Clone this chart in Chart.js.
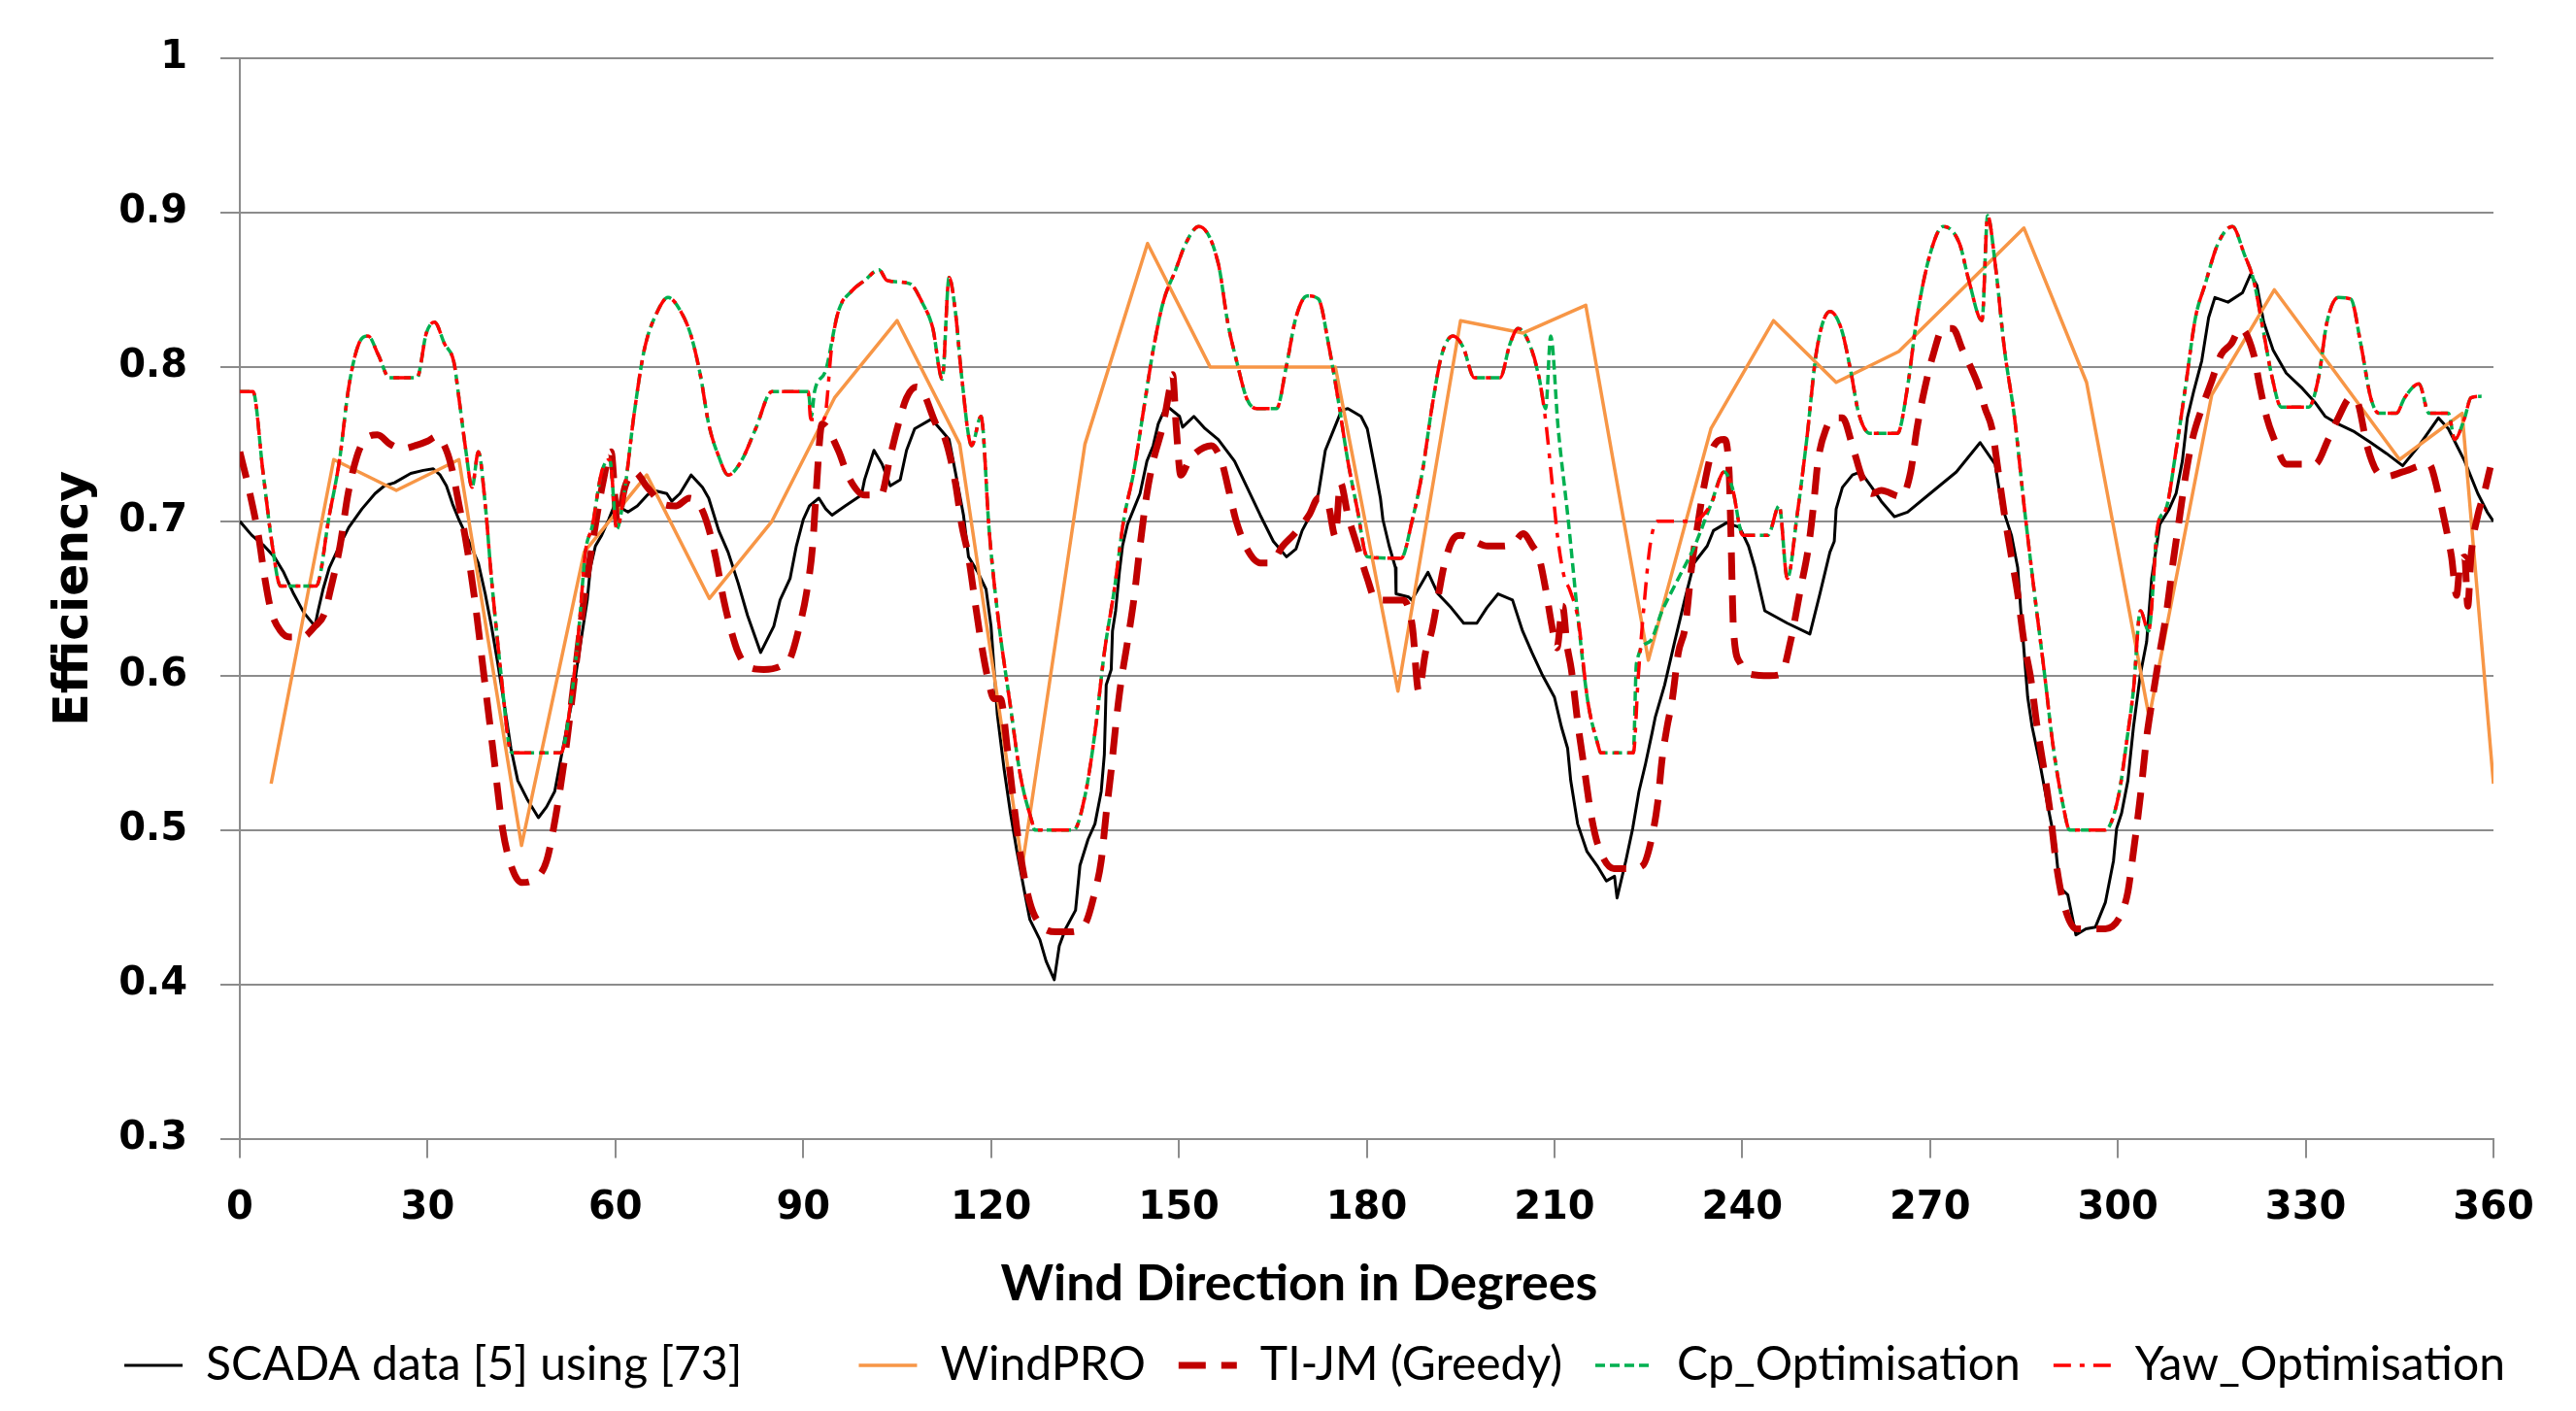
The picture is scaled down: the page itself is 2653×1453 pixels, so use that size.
<!DOCTYPE html>
<html>
<head>
<meta charset="utf-8">
<title>Efficiency vs wind direction</title>
<script src="https://cdn.jsdelivr.net/npm/chart.js@4.4.1/dist/chart.umd.min.js"></script>
<style>
  html, body { margin: 0; padding: 0; background: #fff; }
  canvas { display: block; }
</style>
</head>
<body>
<canvas id="myChart" width="2653" height="1453"></canvas>
<script>
// SCADA data [5] using [73]
var scadaDeg = [0, 1.9, 3.9, 5.5, 7, 8.6, 10.2, 12, 12.5, 13.3, 14.3, 15.9, 17.4, 19.5, 21.6, 23.1, 24.7, 27.3, 29.3, 30.9,
  32, 33, 34, 35, 36.6, 38.1, 39.2, 40.2, 41.2, 42.3, 43.3, 44.4, 45.9, 47.7, 49, 50.3, 51.6, 52.9, 54.2, 55,
  55.5, 56, 56.8, 57.8, 58.9, 59.9, 62, 63.5, 65.1, 66.1, 68.2, 69, 70.3, 72.1, 73.9, 74.9, 76.5, 78, 79.6, 81.1,
  83.2, 85.3, 86.3, 87.9, 88.9, 90, 91, 92.5, 93.6, 94.6, 96.7, 99.3, 99.8, 101.3, 102.6, 103.9, 105.5, 106.5, 107.8, 110.4,
  111.2, 113.3, 114.3, 115.6, 116.4, 117.9, 119.2, 120, 121, 122.1, 123.1, 124.1, 125.2, 126.2, 127.8, 128.8, 130.1, 130.9, 131.9, 133.5,
  134.2, 135.5, 136.6, 137.6, 138.1, 138.4, 139.2, 139.4, 139.9, 140.5, 141, 141.8, 142.8, 143.8, 144.9, 145.9, 146.7, 148, 150.1, 150.6,
  152.4, 154.2, 156.3, 158.9, 160.9, 163, 165.1, 167.2, 168.7, 169.7, 171, 172.3, 173.4, 174.4, 176, 177, 179.1, 180.1, 181.1, 182.2,
  182.6, 183.6, 184.6, 184.7, 186.7, 187.2, 188.8, 189.8, 191.4, 193.5, 195.5, 197.6, 199.2, 201, 203.3, 204.9, 206.4, 208, 210, 211.1,
  212.1, 212.6, 213.7, 215.2, 216.8, 218.3, 219.6, 220, 221.4, 222.5, 223.5, 224.5, 225.6, 226.1, 227.6, 229.2, 230.8, 232.3, 234.4, 235.4,
  237.5, 239.6, 241, 242, 243.6, 247.2, 250.8, 252.4, 254, 254.7, 255, 256, 257.6, 258.9, 260.7, 262.2, 264.3, 266.4, 270, 274.2,
  278, 280.4, 281.4, 283, 284, 284.5, 285.6, 286.3, 287.6, 288.7, 290, 290.7, 292, 293.3, 294.9, 296.4, 298, 299.3, 299.8, 300.6,
  301.6, 302.5, 303.6, 304.6, 305.4, 306.7, 308.2, 309.3, 310.3, 311.1, 312.1, 313.4, 314.5, 315.5, 317.6, 319.9, 321.2, 322.2, 323.3, 324.8,
  326.9, 329.5, 331.5, 333.1, 335.2, 337.8, 340.4, 342.9, 345.5, 348.1, 351.2, 352.8, 355.4, 357.5, 359, 360];
var scadaEff = [0.700, 0.691, 0.684, 0.677, 0.667, 0.653, 0.641, 0.632, 0.642, 0.656, 0.670, 0.684, 0.696, 0.708, 0.718, 0.723, 0.725, 0.731, 0.733, 0.734,
  0.730, 0.723, 0.711, 0.701, 0.687, 0.673, 0.653, 0.632, 0.608, 0.580, 0.553, 0.532, 0.520, 0.508, 0.515, 0.525, 0.553, 0.580, 0.615, 0.636,
  0.649, 0.670, 0.684, 0.691, 0.701, 0.711, 0.706, 0.710, 0.717, 0.720, 0.718, 0.713, 0.718, 0.730, 0.722, 0.715, 0.694, 0.680, 0.660, 0.639,
  0.615, 0.632, 0.649, 0.663, 0.684, 0.701, 0.710, 0.715, 0.708, 0.704, 0.710, 0.717, 0.727, 0.746, 0.737, 0.723, 0.727, 0.746, 0.760, 0.766,
  0.763, 0.753, 0.732, 0.704, 0.677, 0.667, 0.656, 0.632, 0.575, 0.539, 0.511, 0.487, 0.463, 0.442, 0.429, 0.415, 0.403, 0.425, 0.436, 0.448,
  0.477, 0.494, 0.504, 0.525, 0.549, 0.594, 0.604, 0.629, 0.642, 0.667, 0.684, 0.698, 0.708, 0.718, 0.739, 0.749, 0.763, 0.775, 0.768, 0.761,
  0.768, 0.760, 0.753, 0.739, 0.722, 0.704, 0.687, 0.677, 0.682, 0.694, 0.704, 0.718, 0.746, 0.756, 0.772, 0.773, 0.768, 0.760, 0.739, 0.715,
  0.701, 0.684, 0.670, 0.653, 0.651, 0.649, 0.660, 0.667, 0.653, 0.644, 0.634, 0.634, 0.644, 0.653, 0.649, 0.629, 0.615, 0.601, 0.586, 0.567,
  0.553, 0.532, 0.504, 0.486, 0.477, 0.467, 0.470, 0.456, 0.480, 0.501, 0.525, 0.542, 0.563, 0.573, 0.594, 0.622, 0.649, 0.673, 0.684, 0.694,
  0.699, 0.696, 0.684, 0.670, 0.642, 0.634, 0.627, 0.653, 0.680, 0.687, 0.708, 0.722, 0.730, 0.732, 0.722, 0.713, 0.703, 0.706, 0.718, 0.732,
  0.751, 0.737, 0.711, 0.691, 0.670, 0.642, 0.586, 0.567, 0.542, 0.518, 0.491, 0.463, 0.458, 0.432, 0.436, 0.437, 0.453, 0.480, 0.501, 0.511,
  0.532, 0.567, 0.601, 0.622, 0.663, 0.698, 0.708, 0.718, 0.739, 0.767, 0.784, 0.804, 0.832, 0.845, 0.842, 0.848, 0.860, 0.853, 0.829, 0.811,
  0.796, 0.786, 0.777, 0.768, 0.763, 0.758, 0.751, 0.744, 0.736, 0.749, 0.767, 0.760, 0.739, 0.718, 0.706, 0.700];

// WindPRO
var windproDeg = [5, 15, 25, 35, 45, 55, 65, 75, 85, 95, 105, 115, 125, 135, 145, 155, 165, 175, 185, 195,
  205, 215, 225, 235, 245, 255, 265, 275, 285, 295, 305, 315, 325, 335, 345, 355, 360];
var windproEff = [0.53, 0.74, 0.72, 0.74, 0.49, 0.68, 0.73, 0.65, 0.70, 0.78, 0.83, 0.75, 0.477, 0.75, 0.88, 0.80, 0.80, 0.80, 0.59, 0.83,
  0.822, 0.84, 0.61, 0.76, 0.83, 0.79, 0.81, 0.85, 0.89, 0.79, 0.573, 0.782, 0.85, 0.795, 0.74, 0.77, 0.53];

// TI-JM (Greedy)
var tijmDeg = [0, 1.5, 3, 4, 5, 6.5, 8, 10, 12, 13.5, 14.5, 16, 17.3, 18.7, 20, 22, 24, 26, 28, 30,
  31.5, 33, 34, 35, 36, 37.5, 39, 40.5, 42, 43.5, 45, 47, 49, 50.5, 52, 53.5, 55, 56.5, 58, 59.3,
  60.3, 61.5, 63, 65.1, 67.7, 69.7, 71.8, 73.5, 74.7, 76, 77.3, 78.5, 79.6, 81.1, 83.7, 86.3, 87.9, 89.4, 90.5, 91.5,
  92, 93, 95.6, 97.2, 99.8, 102.4, 103.9, 105, 106.5, 108.1, 109.1, 111.2, 112.7, 114.3, 115.3, 116.4, 117.4, 118.4, 119.5, 120.5,
  121.5, 122.6, 123.6, 124.7, 126.2, 127.8, 130.4, 132.4, 135, 136.6, 137.6, 138.4, 139.2, 139.9, 140.7, 141.8, 142.8, 143.8, 144.9, 145.9,
  147.5, 148.5, 149, 149.6, 150.3, 151.6, 152.6, 155.2, 156.8, 158.1, 159.1, 160.9, 163, 164.6, 166.6, 168.5, 170.8, 172.3, 173.9, 175,
  175.8, 177, 178.5, 180.1, 181.5, 185.8, 187.3, 188.3, 189.4, 190.4, 191.5, 192.3, 193.6, 195.1, 197.2, 199.3, 201.8, 203.5, 205, 206.5,
  207.5, 208.6, 209.6, 210.4, 211.3, 212, 212.7, 213.8, 214.8, 215.8, 216.9, 219.5, 222.1, 224.1, 225.7, 226.5, 227.2, 228, 228.8, 229.8,
  230.9, 231.9, 232.9, 234, 235.5, 237.1, 237.9, 238.2, 238.6, 239.7, 241.2, 244.4, 246.2, 247.7, 249.3, 250.6, 251.4, 252.1, 253.4, 254.7,
  256, 257.6, 259.1, 260.7, 262.2, 265.4, 266.9, 267.9, 269.2, 270.5, 272.1, 273.6, 275.2, 276.7, 277.8, 278.8, 279.9, 280.9, 281.9, 283,
  284, 285, 286.1, 287.1, 288.2, 289.2, 290.2, 291.3, 293.3, 298, 300.6, 301.6, 302.3, 303.6, 304.6, 305.6, 306.7, 307.7, 308.8, 309.8,
  310.8, 311.9, 313.4, 315, 316.5, 318.1, 319.6, 321.7, 322.7, 323.8, 324.8, 326.9, 331.5, 333.6, 335.2, 337.2, 338.3, 339.8, 341.4, 342.9,
  345.5, 349.7, 351.2, 352.3, 353.3, 354.1, 354.6, 355.4, 355.9, 356.4, 357.5, 358.5, 359.5];
var tijmEff = [0.745, 0.720, 0.690, 0.663, 0.642, 0.629, 0.625, 0.625, 0.632, 0.640, 0.656, 0.684, 0.718, 0.742, 0.753, 0.756, 0.750, 0.747, 0.749, 0.752,
  0.755, 0.746, 0.732, 0.711, 0.690, 0.650, 0.600, 0.550, 0.500, 0.475, 0.466, 0.468, 0.480, 0.510, 0.550, 0.600, 0.650, 0.690, 0.725, 0.745,
  0.700, 0.722, 0.732, 0.722, 0.711, 0.710, 0.715, 0.710, 0.698, 0.677, 0.649, 0.629, 0.615, 0.606, 0.604, 0.606, 0.611, 0.632, 0.653, 0.684,
  0.715, 0.763, 0.746, 0.729, 0.717, 0.717, 0.742, 0.760, 0.780, 0.787, 0.784, 0.763, 0.753, 0.725, 0.698, 0.677, 0.649, 0.622, 0.598, 0.585,
  0.585, 0.553, 0.518, 0.484, 0.453, 0.439, 0.434, 0.434, 0.439, 0.460, 0.480, 0.511, 0.539, 0.567, 0.594, 0.622, 0.649, 0.684, 0.718, 0.739,
  0.763, 0.785, 0.795, 0.760, 0.730, 0.739, 0.744, 0.749, 0.739, 0.718, 0.701, 0.682, 0.673, 0.673, 0.684, 0.692, 0.704, 0.715, 0.710, 0.690,
  0.725, 0.704, 0.684, 0.663, 0.649, 0.649, 0.632, 0.590, 0.615, 0.629, 0.653, 0.670, 0.687, 0.691, 0.687, 0.684, 0.684, 0.686, 0.692, 0.684,
  0.677, 0.656, 0.632, 0.618, 0.645, 0.620, 0.604, 0.567, 0.539, 0.511, 0.491, 0.475, 0.475, 0.477, 0.498, 0.518, 0.546, 0.567, 0.584, 0.615,
  0.632, 0.670, 0.698, 0.725, 0.749, 0.753, 0.732, 0.690, 0.630, 0.608, 0.601, 0.600, 0.601, 0.622, 0.656, 0.684, 0.711, 0.739, 0.760, 0.767,
  0.767, 0.749, 0.729, 0.718, 0.720, 0.716, 0.732, 0.760, 0.787, 0.808, 0.825, 0.825, 0.811, 0.798, 0.787, 0.773, 0.760, 0.732, 0.704, 0.677,
  0.653, 0.622, 0.598, 0.567, 0.539, 0.511, 0.477, 0.453, 0.436, 0.436, 0.446, 0.460, 0.480, 0.522, 0.560, 0.587, 0.615, 0.639, 0.673, 0.701,
  0.729, 0.753, 0.773, 0.791, 0.808, 0.815, 0.825, 0.808, 0.787, 0.767, 0.755, 0.737, 0.737, 0.753, 0.767, 0.780, 0.777, 0.749, 0.732, 0.729,
  0.732, 0.737, 0.718, 0.698, 0.677, 0.652, 0.670, 0.677, 0.645, 0.677, 0.704, 0.718, 0.735];

// Cp_Optimisation
var cpDeg = [0, 2.1, 3.7, 5.2, 6.5, 12.2, 14.3, 15.9, 17.4, 19, 20.5, 22.1, 23.9, 28.3, 29.8, 31.1, 32.7, 34.2, 35, 36.1,
  37.1, 38.1, 39.2, 40.2, 41.8, 43.1, 43.6, 51.3, 52.9, 54.2, 55.2, 56.3, 57.8, 59.1, 60.2, 61.4, 63, 64.6, 66.6, 68.4,
  70.3, 72.1, 73.6, 74.9, 76.5, 78, 80.1, 82.4, 85, 90.8, 91.3, 91.8, 93.6, 95.6, 97.7, 99.8, 102.1, 103.4, 107, 109.1,
  110.7, 112.2, 113.3, 114.3, 115.3, 116.9, 118.4, 119.7, 121, 123.1, 124.7, 126.5, 127, 133.2, 135, 136.6, 138.1, 139.7, 141.2, 142.8,
  144.4, 145.9, 147.5, 149.5, 151.1, 153.2, 156.3, 157.8, 159.4, 160.9, 162.5, 165.6, 167.2, 168.7, 170.5, 172.3, 173.9, 175.4, 177, 178.5,
  180.1, 185.5, 187.3, 188.9, 190.4, 192, 193.8, 195.4, 197.2, 201.3, 202.9, 204.2, 206, 207.5, 208.6, 209.4, 210.6, 212.2, 213.8, 215.3,
  216.9, 217.4, 222.6, 223.1, 225.2, 227.2, 229.8, 232.4, 235, 237.1, 238.4, 240.1, 244.1, 245.9, 247.2, 248.8, 250.3, 251.9, 254, 255.8,
  257.3, 258.6, 260.4, 264.8, 266.4, 267.9, 270, 272.1, 274.7, 276.2, 278.3, 279.2, 280.4, 281.9, 283.5, 285, 286.6, 288.2, 289.7, 291.3,
  292.3, 298, 300.1, 301.5, 302.5, 303.6, 304.9, 306.4, 307.7, 309.3, 310.8, 312.4, 313.9, 316, 318.3, 320.2, 321.7, 323.3, 324.6, 326.1,
  330.5, 332.1, 333.4, 335.2, 337.2, 338.8, 340.4, 341.7, 344.5, 345.8, 348.1, 349.7, 352.8, 353.8, 355.4, 356.4, 358.1];
var cpEff = [0.784, 0.784, 0.732, 0.684, 0.658, 0.658, 0.704, 0.739, 0.787, 0.815, 0.820, 0.808, 0.793, 0.793, 0.822, 0.829, 0.815, 0.803, 0.780, 0.746,
  0.722, 0.745, 0.711, 0.663, 0.598, 0.553, 0.550, 0.550, 0.584, 0.632, 0.680, 0.697, 0.732, 0.740, 0.695, 0.718, 0.770, 0.811, 0.835, 0.845,
  0.837, 0.820, 0.794, 0.763, 0.742, 0.730, 0.739, 0.760, 0.784, 0.784, 0.768, 0.784, 0.798, 0.836, 0.849, 0.856, 0.863, 0.856, 0.854, 0.841,
  0.825, 0.792, 0.858, 0.836, 0.794, 0.749, 0.768, 0.694, 0.642, 0.580, 0.535, 0.506, 0.500, 0.500, 0.522, 0.563, 0.615, 0.656, 0.701, 0.732,
  0.773, 0.811, 0.842, 0.863, 0.880, 0.891, 0.867, 0.829, 0.801, 0.779, 0.773, 0.773, 0.801, 0.832, 0.846, 0.844, 0.815, 0.780, 0.739, 0.708,
  0.677, 0.676, 0.701, 0.732, 0.773, 0.808, 0.820, 0.813, 0.793, 0.793, 0.815, 0.825, 0.815, 0.794, 0.773, 0.820, 0.760, 0.701, 0.636, 0.584,
  0.556, 0.550, 0.550, 0.608, 0.622, 0.642, 0.663, 0.684, 0.711, 0.732, 0.722, 0.691, 0.691, 0.710, 0.663, 0.705, 0.753, 0.811, 0.836, 0.825,
  0.798, 0.770, 0.757, 0.757, 0.787, 0.832, 0.873, 0.891, 0.880, 0.856, 0.830, 0.898, 0.867, 0.811, 0.767, 0.711, 0.656, 0.604, 0.553, 0.515,
  0.500, 0.500, 0.522, 0.560, 0.591, 0.642, 0.629, 0.698, 0.708, 0.746, 0.787, 0.832, 0.853, 0.880, 0.891, 0.873, 0.856, 0.822, 0.794, 0.774,
  0.774, 0.794, 0.829, 0.845, 0.844, 0.815, 0.780, 0.770, 0.770, 0.780, 0.789, 0.770, 0.770, 0.753, 0.767, 0.780, 0.781];

// Yaw_Optimisation (same run as Cp except round 91, 205-214 and 222-235 deg)
var yawDeg = [0, 2.1, 3.7, 5.2, 6.5, 12.2, 14.3, 15.9, 17.4, 19, 20.5, 22.1, 23.9, 28.3, 29.8, 31.1, 32.7, 34.2, 35, 36.1,
  37.1, 38.1, 39.2, 40.2, 41.8, 43.1, 43.6, 51.3, 52.9, 54.2, 55.2, 56.3, 57.8, 59.1, 60.2, 61.4, 63, 64.6, 66.6, 68.4,
  70.3, 72.1, 73.6, 74.9, 76.5, 78, 80.1, 82.4, 85, 90.8, 91.2, 93.3, 94.6, 95.6, 97.7, 99.8, 102.1, 103.4, 107, 109.1,
  110.7, 112.2, 113.3, 114.3, 115.3, 116.9, 118.4, 119.7, 121, 123.1, 124.7, 126.5, 127, 133.2, 135, 136.6, 138.1, 139.7, 141.2, 142.8,
  144.4, 145.9, 147.5, 149.5, 151.1, 153.2, 156.3, 157.8, 159.4, 160.9, 162.5, 165.6, 167.2, 168.7, 170.5, 172.3, 173.9, 175.4, 177, 178.5,
  180.1, 185.5, 187.3, 188.9, 190.4, 192, 193.8, 195.4, 197.2, 201.3, 202.9, 204.2, 206, 207.5, 208.6, 209.5, 210.5, 211.5, 212.5, 213.8,
  215.3, 216.9, 217.4, 222.6, 223.4, 224.3, 225.3, 226.4, 232, 235, 237.1, 238.4, 240.1, 244.1, 245.9, 247.2, 248.8, 250.3, 251.9, 254,
  255.8, 257.3, 258.6, 260.4, 264.8, 266.4, 267.9, 270, 272.1, 274.7, 276.2, 278.3, 279.2, 280.4, 281.9, 283.5, 285, 286.6, 288.2, 289.7,
  291.3, 292.3, 298, 300.1, 301.5, 302.5, 303.6, 304.9, 306.4, 307.7, 309.3, 310.8, 312.4, 313.9, 316, 318.3, 320.2, 321.7, 323.3, 324.6,
  326.1, 330.5, 332.1, 333.4, 335.2, 337.2, 338.8, 340.4, 341.7, 344.5, 345.8, 348.1, 349.7, 352.8, 353.8, 355.4, 356.4, 358.1];
var yawEff = [0.784, 0.784, 0.732, 0.684, 0.658, 0.658, 0.704, 0.739, 0.787, 0.815, 0.820, 0.808, 0.793, 0.793, 0.822, 0.829, 0.815, 0.803, 0.780, 0.746,
  0.722, 0.745, 0.711, 0.663, 0.598, 0.553, 0.550, 0.550, 0.584, 0.632, 0.680, 0.697, 0.732, 0.740, 0.695, 0.718, 0.770, 0.811, 0.835, 0.845,
  0.837, 0.820, 0.794, 0.763, 0.742, 0.730, 0.739, 0.760, 0.784, 0.784, 0.766, 0.766, 0.815, 0.836, 0.849, 0.856, 0.863, 0.856, 0.854, 0.841,
  0.825, 0.792, 0.858, 0.836, 0.794, 0.749, 0.768, 0.694, 0.642, 0.580, 0.535, 0.506, 0.500, 0.500, 0.522, 0.563, 0.615, 0.656, 0.701, 0.732,
  0.773, 0.811, 0.842, 0.863, 0.880, 0.891, 0.867, 0.829, 0.801, 0.779, 0.773, 0.773, 0.801, 0.832, 0.846, 0.844, 0.815, 0.780, 0.739, 0.708,
  0.677, 0.676, 0.701, 0.732, 0.773, 0.808, 0.820, 0.813, 0.793, 0.793, 0.815, 0.825, 0.815, 0.794, 0.765, 0.730, 0.690, 0.665, 0.655, 0.636,
  0.584, 0.556, 0.550, 0.550, 0.600, 0.645, 0.685, 0.700, 0.700, 0.711, 0.732, 0.722, 0.691, 0.691, 0.710, 0.663, 0.705, 0.753, 0.811, 0.836,
  0.825, 0.798, 0.770, 0.757, 0.757, 0.787, 0.832, 0.873, 0.891, 0.880, 0.856, 0.830, 0.898, 0.867, 0.811, 0.767, 0.711, 0.656, 0.604, 0.553,
  0.515, 0.500, 0.500, 0.522, 0.560, 0.591, 0.642, 0.629, 0.698, 0.708, 0.746, 0.787, 0.832, 0.853, 0.880, 0.891, 0.873, 0.856, 0.822, 0.794,
  0.774, 0.774, 0.794, 0.829, 0.845, 0.844, 0.815, 0.780, 0.770, 0.770, 0.780, 0.789, 0.770, 0.770, 0.753, 0.767, 0.780, 0.781];

var xTicks = [0, 30, 60, 90, 120, 150, 180, 210, 240, 270, 300, 330, 360];
var yTicks = [0.3, 0.4, 0.5, 0.6, 0.7, 0.8, 0.9, 1];

function points(deg, eff) {
  return deg.map(function (d, i) { return { x: d, y: eff[i] }; });
}

var gridGrey = '#8c8c8c';
var tickFont = { family: 'DejaVu Sans', size: 40, weight: 'bold' };

// the original centres its axis title and legend a little right of the canvas middle
var nudge = {
  id: 'nudge',
  afterLayout: function (chart) {
    chart.titleBlock.left += 32;
    chart.titleBlock.right += 32;
    chart.legend.left += 48;
    chart.legend.right += 48;
    chart.legend.top -= 5;
    chart.legend.bottom -= 5;
  }
};

var ctx = document.getElementById('myChart').getContext('2d');
var chart = new Chart(ctx, {
  type: 'line',
  plugins: [nudge],
  data: {
    datasets: [{
      label: 'SCADA data [5] using [73]',
      data: points(scadaDeg, scadaEff),
      borderColor: '#000000',
      borderWidth: 3,
      order: 5
    }, {
      label: 'WindPRO',
      data: points(windproDeg, windproEff),
      borderColor: '#F79646',
      borderWidth: 3.5,
      order: 4
    }, {
      label: 'TI-JM (Greedy)',
      data: points(tijmDeg, tijmEff),
      borderColor: '#C00000',
      borderWidth: 7,
      borderDash: [28, 16],
      cubicInterpolationMode: 'monotone',
      order: 3
    }, {
      label: 'Cp_Optimisation',
      data: points(cpDeg, cpEff),
      borderColor: '#00B050',
      borderWidth: 3.5,
      borderDash: [10, 5],
      cubicInterpolationMode: 'monotone',
      order: 2
    }, {
      label: 'Yaw_Optimisation',
      data: points(yawDeg, yawEff),
      borderColor: '#FF0000',
      borderWidth: 3.5,
      borderDash: [18, 9, 5, 9],
      cubicInterpolationMode: 'monotone',
      order: 1
    }]
  },
  options: {
    responsive: false,
    devicePixelRatio: 1,
    animation: false,
    layout: { padding: { top: 60, right: 85, bottom: 8, left: 44 } },
    elements: {
      point: { radius: 0, hoverRadius: 0, pointStyle: 'line' },
      line: { tension: 0, fill: false, borderCapStyle: 'butt', borderJoinStyle: 'round' }
    },
    scales: {
      x: {
        type: 'linear',
        min: 0,
        max: 360,
        afterBuildTicks: function (scale) {
          scale.ticks = xTicks.map(function (v) { return { value: v }; });
        },
        afterFit: function (scale) { scale.height = 96; },
        ticks: { font: tickFont, color: '#000', padding: 28, maxRotation: 0 },
        grid: { drawOnChartArea: false, tickLength: 20, color: gridGrey, lineWidth: 2 },
        border: { color: gridGrey, width: 2 }
      },
      y: {
        type: 'linear',
        min: 0.3,
        max: 1,
        afterBuildTicks: function (scale) {
          scale.ticks = yTicks.map(function (v) { return { value: v }; });
        },
        afterFit: function (scale) { scale.width = 203; },
        ticks: {
          font: tickFont,
          color: '#000',
          padding: 34,
          callback: function (v) { return String(Math.round(v * 10) / 10); }
        },
        grid: { tickLength: 20, color: gridGrey, lineWidth: 2 },
        border: { color: gridGrey, width: 2 },
        title: {
          display: true,
          text: 'Efficiency',
          color: '#000',
          font: { family: 'DejaVu Sans', size: 49, weight: 'bold' },
          padding: { top: 4, bottom: 4 }
        }
      }
    },
    plugins: {
      tooltip: { enabled: false },
      title: {
        display: true,
        text: 'Wind Direction in Degrees',
        position: 'bottom',
        weight: 500,
        color: '#000',
        font: { family: 'Lato', size: 52, weight: 'bold' },
        padding: { top: 22, bottom: 0 }
      },
      legend: {
        position: 'bottom',
        labels: {
          usePointStyle: true,
          pointStyleWidth: 60,
          padding: 34,
          color: '#000',
          font: { family: 'Lato', size: 48 },
          generateLabels: function (chart) {
            var items = Chart.defaults.plugins.legend.labels.generateLabels(chart);
            items.forEach(function (item) {
              var ds = chart.data.datasets[item.datasetIndex];
              item.lineDash = ds.borderDash || [];
              item.lineWidth = ds.borderWidth;
              // the first entry sits in a wider column in the original legend
              if (item.datasetIndex === 0) item.text += '\u00a0'.repeat(7);
            });
            return items;
          },
          sort: function (a, b) { return a.datasetIndex - b.datasetIndex; }
        }
      }
    }
  }
});
</script>
</body>
</html>
